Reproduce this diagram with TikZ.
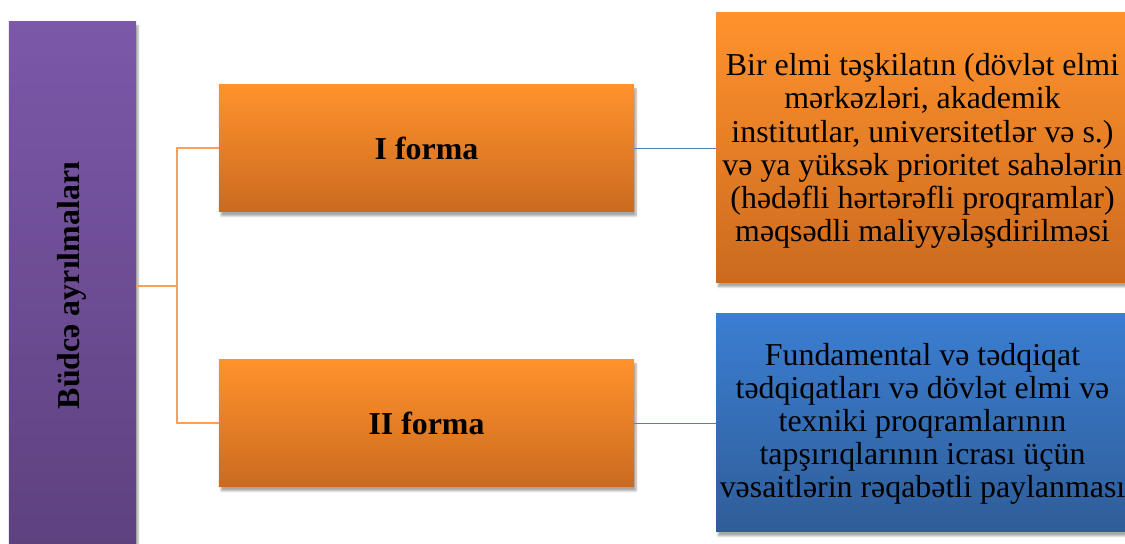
\documentclass[tikz,border=0pt]{standalone}
\usepackage{fontspec}
\setmainfont{Liberation Serif}
\usetikzlibrary{shadows.blur,calc}
\definecolor{purpTop}{HTML}{7C58A9}
\definecolor{purpBot}{HTML}{5E417F}
\definecolor{orTop}{HTML}{FF922C}
\definecolor{orBot}{HTML}{CB6A1F}
\definecolor{blTop}{HTML}{3B7ED2}
\definecolor{blBot}{HTML}{2F5D98}
\definecolor{orLine}{HTML}{F8A05A}
\definecolor{blLine}{HTML}{4F81BD}
\tikzset{
  boxbase/.style={rectangle, inner sep=0pt, outer sep=0pt,
    blur shadow={shadow xshift=2bp, shadow yshift=-4bp, shadow blur steps=6, shadow opacity=35}},
  purplebox/.style={boxbase, top color=purpTop, bottom color=purpBot},
  orangebox/.style={boxbase, top color=orTop, bottom color=orBot},
  bluebox/.style={boxbase, top color=blTop, bottom color=blBot},
  labelbold/.style={font=\fontsize{32}{36}\selectfont\bfseries, text=black},
  bodytext/.style={font=\fontsize{32}{33.3}\selectfont, text=black, align=center},
  orlink/.style={draw=orLine, line width=2bp},
  bllink/.style={draw=blLine, line width=1.6bp}
}
\begin{document}
\begin{tikzpicture}[x=1bp,y=1bp]
\useasboundingbox (0,0) rectangle (1125,544);
\clip (0,0) rectangle (1125,544);
% boxes
\node[purplebox, minimum width=127bp, minimum height=528bp] (purple) at (72.5,258) {};
\node[labelbold, rotate=90] (purpletext) at (72,258.5) {Büdcə ayrılmaları};
\node[orangebox, minimum width=415bp, minimum height=127bp] (I) at (426.5,395.5) {};
\node[labelbold] (Itext) at (I.center) {I forma};
\node[orangebox, minimum width=415bp, minimum height=127bp] (II) at (426.5,120.5) {};
\node[labelbold] (IItext) at (II.center) {II forma};
\node[orangebox, minimum width=420bp, minimum height=270bp] (R1) at (926,396) {};
\node[bodytext] (R1text) at (922.5,393) {Bir elmi təşkilatın (dövlət elmi\\mərkəzləri, akademik\\institutlar, universitetlər və s.)\\və ya yüksək prioritet sahələrin\\(hədəfli hərtərəfli proqramlar)\\məqsədli maliyyələşdirilməsi};
\node[bluebox, minimum width=420bp, minimum height=218bp] (R2) at (926,121) {};
\node[bodytext] (R2text) at (922.5,120) {Fundamental və tədqiqat\\tədqiqatları və dövlət elmi və\\texniki proqramlarının\\tapşırıqlarının icrası üçün\\vəsaitlərin rəqabətli paylanması};
% connectors
\coordinate (j) at (177,258);
\draw[orlink] (purple.east |- j) -- (j);
\draw[orlink] (j) |- (I.west);
\draw[orlink] (j) |- (II.west);
\draw[bllink] (I.east) -- (R1.west |- I.east);
\draw[bllink] (II.east) -- (R2.west |- II.east);
\end{tikzpicture}
\end{document}
